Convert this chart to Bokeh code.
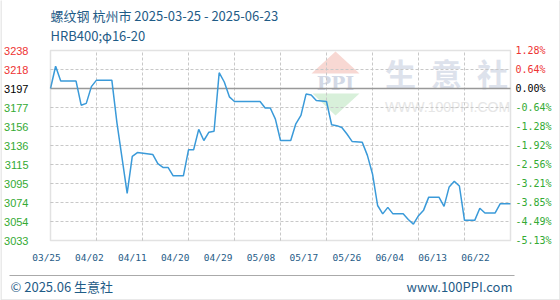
import pandas as pd
from bokeh.plotting import figure
from bokeh.models import (Range1d, Label, LabelSet, ColumnDataSource, BoxAnnotation, PolyAnnotation)
from bokeh.core.properties import value
from bokeh.embed import file_html
from bokeh.resources import INLINE

# ---------------- data ----------------
start_date = "2025-03-25"
end_date = "2025-06-23"
dates = ["2025-03-25", "2025-03-26", "2025-03-27", "2025-03-30", "2025-03-31", "2025-04-01",
         "2025-04-02", "2025-04-03", "2025-04-06", "2025-04-07", "2025-04-08", "2025-04-09",
         "2025-04-10", "2025-04-11", "2025-04-14", "2025-04-15", "2025-04-16", "2025-04-17",
         "2025-04-18", "2025-04-20", "2025-04-21", "2025-04-22", "2025-04-23", "2025-04-24",
         "2025-04-25", "2025-04-26", "2025-04-27", "2025-04-28", "2025-04-29", "2025-04-30",
         "2025-05-05", "2025-05-06", "2025-05-07", "2025-05-08", "2025-05-09", "2025-05-11",
         "2025-05-12", "2025-05-13", "2025-05-14", "2025-05-15", "2025-05-16", "2025-05-18",
         "2025-05-19", "2025-05-20", "2025-05-21", "2025-05-22", "2025-05-23", "2025-05-25",
         "2025-05-26", "2025-05-27", "2025-05-28", "2025-05-29", "2025-05-30", "2025-05-31",
         "2025-06-02", "2025-06-03", "2025-06-04", "2025-06-05", "2025-06-06", "2025-06-07",
         "2025-06-09", "2025-06-10", "2025-06-11", "2025-06-12", "2025-06-13", "2025-06-14",
         "2025-06-16", "2025-06-17", "2025-06-18", "2025-06-20", "2025-06-21", "2025-06-23"]
prices = [3197, 3221, 3205, 3205, 3179, 3181,
          3199, 3206, 3206, 3160, 3122, 3084,
          3124, 3128, 3126, 3116, 3112, 3112,
          3103, 3103, 3131, 3131, 3153, 3141,
          3150, 3151, 3214, 3204, 3188, 3183,
          3183, 3176, 3176, 3164, 3141, 3141,
          3159, 3168, 3191, 3190, 3184, 3183,
          3158, 3157, 3155, 3148, 3140, 3139,
          3125, 3105, 3071, 3062, 3069, 3062,
          3062, 3056, 3051, 3060, 3066, 3080,
          3080, 3070, 3091, 3097, 3092, 3055,
          3055, 3068, 3063, 3063, 3073, 3073]

base_price = 3197
pct_step = 0.0064
y_levels = [-8, -7, -6, -5, -4, -3, -2, -1, 0, 1, 2]
price_labels = ["3033", "3054", "3074", "3095", "3115", "3136", "3156", "3177", "3197", "3218", "3238"]
pct_labels = ["-5.13%", "-4.49%", "-3.85%", "-3.21%", "-2.56%", "-1.92%", "-1.28%", "-0.64%",
              "0.00%", "0.64%", "1.28%"]
x_tick_labels = ["03/25", "04/02", "04/11", "04/20", "04/29", "05/08", "05/17", "05/26",
                 "06/04", "06/13", "06/22"]

title_line1 = "螺纹钢 杭州市 2025-03-25 - 2025-06-23"
title_line2 = "HRB400;φ16-20"
footer_left = "© 2025.06 生意社"
footer_right = "www.100PPI.com"

# ---------------- layout ----------------
W, H = 560, 300
L, R, T, B = 50, 510, 50, 240          # plot area inside the canvas (px)
grid_every = 9                          # days between vertical grid lines

t0 = pd.Timestamp(start_date)
days = [(pd.Timestamp(d) - t0).days for d in dates]
total_days = (pd.Timestamp(end_date) - t0).days
step = base_price * pct_step
y_top = base_price + y_levels[-1] * step
y_bot = base_price + y_levels[0] * step

px_day = (R - L) / total_days
px_val = (B - T) / (y_top - y_bot)

RED, GREEN, BLACK, BLUE = "#ee3333", "#33aa33", "#000000", "#1f5c87"
GRID = "#c8c8c8"

p = figure(width=W, height=H, output_backend="svg", toolbar_location=None,
           x_range=Range1d(-L / px_day, total_days + (W - R) / px_day),
           y_range=Range1d(y_bot - (H - B) / px_val, y_top + T / px_val),
           x_axis_location=None, y_axis_location=None, min_border=0)
p.xgrid.visible = False
p.ygrid.visible = False
p.outline_line_color = None
p.background_fill_color = "white"
p.border_fill_color = "white"

# tick-label position range for dates (label i centred at 46 + 42.9*i px)
lab_px = 42.9
lab_start = -46 / lab_px
p.extra_x_ranges = {"lab": Range1d(lab_start, lab_start + W / lab_px)}

# ---------------- watermark ----------------
p.add_layout(PolyAnnotation(xs=[311, 335, 359], ys=[73, 51, 73], xs_units="canvas", ys_units="canvas",
                            fill_color="#f8d8d3", fill_alpha=1, line_color=None, level="underlay"))
p.add_layout(PolyAnnotation(xs=[312, 359, 335], ys=[93, 93, 115], xs_units="canvas", ys_units="canvas",
                            fill_color="#d8f0da", fill_alpha=1, line_color=None, level="underlay"))
p.add_layout(Label(x=335, y=82, x_units="canvas", y_units="canvas", text="PPI",
                   text_font="DejaVu Serif", text_font_size="19px", text_font_style="bold",
                   text_color="#d3d9e6", text_align="center", text_baseline="middle", level="underlay"))
for ch, cx in zip("生意社", [400, 446, 492]):
    p.add_layout(Label(x=cx, y=72, x_units="canvas", y_units="canvas", text=ch,
                       text_font="Noto Sans CJK SC", text_font_size="31px", text_font_style="bold",
                       text_color="#dde2ec", text_align="center", text_baseline="middle", level="underlay"))
p.add_layout(Label(x=447, y=106, x_units="canvas", y_units="canvas", text="WWW.100PPI.COM",
                   text_font="Liberation Sans", text_font_size="14px",
                   text_color="#e6e6e6", text_align="center", text_baseline="middle", level="underlay"))

# ---------------- grid, baseline, frame ----------------
vx = list(range(grid_every, total_days, grid_every))
p.segment(x0=vx, y0=[y_bot] * len(vx), x1=vx, y1=[y_top] * len(vx),
          line_color=GRID, line_dash="3 2", line_width=1)
hy = [base_price + k * step for k in y_levels if k not in (y_levels[0], 0, y_levels[-1])]
p.segment(x0=[0] * len(hy), y0=hy, x1=[total_days] * len(hy), y1=hy,
          line_color=GRID, line_dash="3 2", line_width=1)
p.segment(x0=[0], y0=[base_price], x1=[total_days], y1=[base_price],
          line_color="#999999", line_width=1.5)
p.add_layout(BoxAnnotation(left=0, right=total_days, bottom=y_bot, top=y_top,
                           fill_color=None, line_color="#a0a0a0", line_width=1.5))

# ---------------- price line ----------------
p.line(days, prices, line_color="#3a9ad9", line_width=1.5)

# ---------------- tick labels ----------------
lvl_colors = [RED if k > 0 else (BLACK if k == 0 else GREEN) for k in y_levels]
src_y = ColumnDataSource(dict(
    y=[base_price + k * step for k in y_levels],
    price=price_labels, pct=pct_labels, color=lvl_colors,
    xl=[28] * len(y_levels), xr=[515] * len(y_levels),
))
p.add_layout(LabelSet(source=src_y, x="xl", y="y", text="price", x_units="canvas",
                      text_align="right", text_baseline="middle", text_color="color",
                      text_font=value("Liberation Sans"), text_font_size=value("11px")))
p.add_layout(LabelSet(source=src_y, x="xr", y="y", text="pct", x_units="canvas",
                      text_align="left", text_baseline="middle", text_color="color",
                      text_font=value("DejaVu Sans Mono"), text_font_size=value("10px")))

src_x = ColumnDataSource(dict(i=list(range(len(x_tick_labels))), lbl=x_tick_labels,
                              yy=[257] * len(x_tick_labels)))
p.add_layout(LabelSet(source=src_x, x="i", y="yy", text="lbl", x_range_name="lab", y_units="canvas",
                      text_align="center", text_baseline="middle", text_color=BLUE,
                      text_font=value("DejaVu Sans Mono"), text_font_size=value("9.5px")))

# ---------------- titles ----------------
p.add_layout(Label(x=50, y=15, x_units="canvas", y_units="canvas", text=title_line1,
                   text_font="Noto Sans CJK SC", text_font_size="13px",
                   text_color=BLUE, text_baseline="middle"))
p.add_layout(Label(x=50, y=35, x_units="canvas", y_units="canvas", text=title_line2,
                   text_font="Noto Sans CJK SC", text_font_size="13px",
                   text_color=BLUE, text_baseline="middle"))

# ---------------- footer ----------------
p.add_layout(BoxAnnotation(left=9, right=514, top=274.5, bottom=275.5,
                           left_units="canvas", right_units="canvas", top_units="canvas", bottom_units="canvas",
                           fill_color="#aaaaaa", fill_alpha=1, line_color=None))
p.add_layout(Label(x=10, y=286, x_units="canvas", y_units="canvas", text=footer_left,
                   text_font="Noto Sans CJK SC", text_font_size="13px",
                   text_color=BLUE, text_baseline="middle"))
p.add_layout(Label(x=512, y=286, x_units="canvas", y_units="canvas", text=footer_right,
                   text_font="Noto Sans CJK SC", text_font_size="13px",
                   text_color=BLUE, text_baseline="middle", text_align="right"))

# outer border (left, right, bottom)
p.add_layout(BoxAnnotation(left=0.5, right=559.5, top=-5, bottom=299.5,
                           left_units="canvas", right_units="canvas", top_units="canvas", bottom_units="canvas",
                           fill_color=None, line_color="#a0a0a0", line_width=1.5))

open("out.html", "w").write(file_html(p, INLINE))
